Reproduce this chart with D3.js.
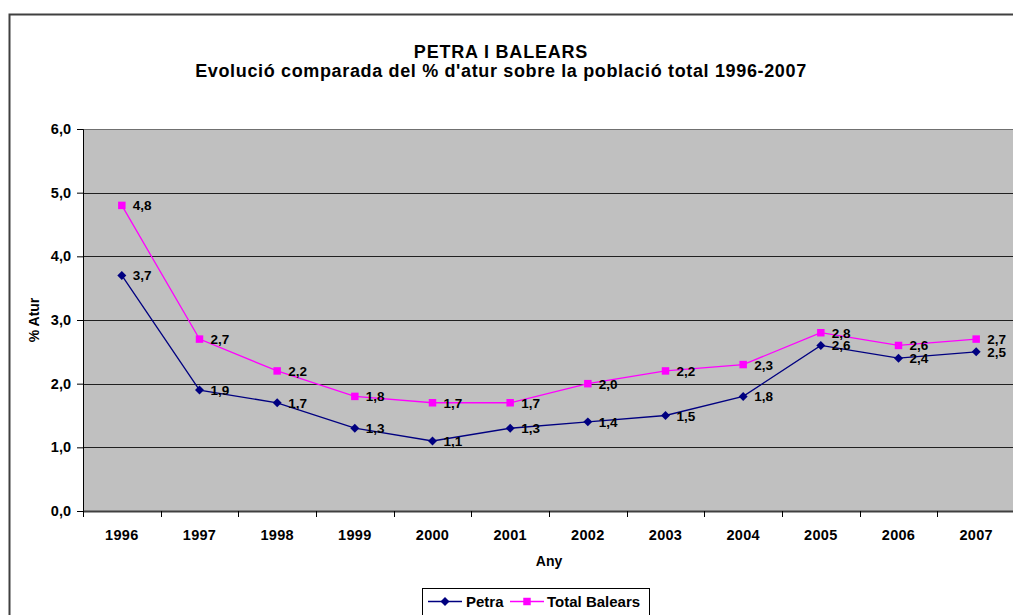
<!DOCTYPE html>
<html>
<head>
<meta charset="utf-8">
<script src="https://cdn.jsdelivr.net/npm/d3@7"></script>
<style>
  body { margin: 0; background: #fff; }
  svg { display: block; font-family: Arial, "Liberation Sans", sans-serif; }
</style>
</head>
<body>
<div id="chart"></div>
<script>
// chart data
var years = ["1996", "1997", "1998", "1999", "2000", "2001", "2002", "2003", "2004", "2005", "2006", "2007"];
var petra = [3.7, 1.9, 1.7, 1.3, 1.1, 1.3, 1.4, 1.5, 1.8, 2.6, 2.4, 2.5];
var balears = [4.8, 2.7, 2.2, 1.8, 1.7, 1.7, 2.0, 2.2, 2.3, 2.8, 2.6, 2.7];
var yTicks = [0, 1, 2, 3, 4, 5, 6];

var W = 1013, H = 615;
var margin = { top: 129, right: -2, bottom: 104, left: 83 };
var width = W - margin.left - margin.right;
var height = H - margin.top - margin.bottom;
var FONT = "Arial, 'Liberation Sans', sans-serif";

var fmt = function (v) { return v.toFixed(1).replace(".", ","); };

var svg = d3.select("#chart").append("svg")
  .attr("width", W)
  .attr("height", H);

// outer chart border
svg.append("rect")
  .attr("x", 9.5).attr("y", 14.5)
  .attr("width", W + 20).attr("height", H + 20)
  .attr("fill", "#fff")
  .attr("stroke", "#404040")
  .attr("stroke-width", 2);

// titles
svg.append("text")
  .attr("x", 501).attr("y", 58)
  .attr("text-anchor", "middle")
  .attr("font-size", 18).attr("font-weight", "bold")
  .attr("letter-spacing", 0.8)
  .text("PETRA I BALEARS");
svg.append("text")
  .attr("x", 501).attr("y", 77)
  .attr("text-anchor", "middle")
  .attr("font-size", 18).attr("font-weight", "bold")
  .attr("letter-spacing", 0.65)
  .text("Evolució comparada del % d'atur sobre la població total 1996-2007");

var g = svg.append("g").attr("transform", `translate(${margin.left},${margin.top})`);

var x = d3.scaleBand().domain(years).range([0, width]);
var y = d3.scaleLinear().domain([0, 6]).range([height, 0]);

// plot background
g.append("rect")
  .attr("width", width).attr("height", height)
  .attr("fill", "#c0c0c0");

// gridlines
g.selectAll(".grid")
  .data(yTicks.slice(1))
  .enter()
  .append("line")
  .attr("x1", 0).attr("x2", width)
  .attr("y1", function (d) { return Math.round(y(d)) + 0.5; })
  .attr("y2", function (d) { return Math.round(y(d)) + 0.5; })
  .attr("stroke", function (d) { return d === 6 ? "#707070" : "#202020"; })
  .attr("stroke-width", 1);

// Y axis
var yAxis = g.append("g")
  .call(d3.axisLeft(y).tickValues(yTicks).tickFormat(fmt).tickSize(6).tickPadding(6));
yAxis.select(".domain").attr("stroke", "#000");
yAxis.selectAll("text").attr("font-size", 14.5).attr("font-weight", "bold").attr("fill", "#000")
  .attr("font-family", FONT);

// X axis with ticks at category boundaries
var xAxis = g.append("g").attr("transform", `translate(0,${height})`)
  .call(d3.axisBottom(x).tickSize(0).tickPadding(18.5));
xAxis.select(".domain").attr("stroke", "#404040").attr("stroke-width", 2);
xAxis.selectAll("text").attr("font-size", 14.5).attr("font-weight", "bold").attr("fill", "#000")
  .attr("letter-spacing", 0.3)
  .attr("font-family", FONT);
g.append("g").selectAll("line")
  .data(years)
  .enter()
  .append("line")
  .attr("x1", function (d) { return Math.round(x(d)) + 0.5; })
  .attr("x2", function (d) { return Math.round(x(d)) + 0.5; })
  .attr("y1", height).attr("y2", height + 6)
  .attr("stroke", "#000");

// axis titles
svg.append("text")
  .attr("x", 549).attr("y", 566)
  .attr("text-anchor", "middle")
  .attr("font-size", 14).attr("font-weight", "bold")
  .text("Any");
svg.append("text")
  .attr("transform", "translate(39,320) rotate(-90)")
  .attr("text-anchor", "middle")
  .attr("font-size", 14).attr("font-weight", "bold")
  .text("% Atur");

var cx = function (i) { return x(years[i]) + x.bandwidth() / 2; };
var line = d3.line()
  .x(function (d, i) { return cx(i); })
  .y(function (d) { return y(d); });

// diamond like the spreadsheet marker (as wide as tall)
var diamond = { draw: function (ctx, size) {
  var r = Math.sqrt(size) / 2 * 1.2;
  ctx.moveTo(0, -r); ctx.lineTo(r, 0); ctx.lineTo(0, r); ctx.lineTo(-r, 0); ctx.closePath();
} };

var series = [
  { name: "Petra", values: petra, color: "#000080", symbol: diamond, size: 56 },
  { name: "Total Balears", values: balears, color: "#ff00ff", symbol: d3.symbolSquare, size: 56 }
];

series.forEach(function (s, k) {
  g.append("path")
    .datum(s.values)
    .attr("fill", "none")
    .attr("stroke", s.color)
    .attr("stroke-width", 1.3)
    .attr("d", line);
  g.selectAll(".m" + k)
    .data(s.values)
    .enter()
    .append("path")
    .attr("class", "m" + k)
    .attr("transform", function (d, i) { return `translate(${cx(i)},${y(d)})`; })
    .attr("d", d3.symbol().type(s.symbol).size(s.size))
    .attr("fill", s.color);
});

// data labels, drawn after lines so they sit on top
series.forEach(function (s, k) {
  g.selectAll(".l" + k)
    .data(s.values)
    .enter()
    .append("text")
    .attr("class", "l" + k)
    .attr("x", function (d, i) { return cx(i) + 11; })
    .attr("y", function (d) { return y(d) + 5; })
    .attr("font-size", 13.5).attr("font-weight", "bold")
    .attr("fill", "#000")
    .text(fmt);
});

// legend
var lg = svg.append("g").attr("transform", "translate(422,588)");
lg.append("rect")
  .attr("x", 0.5).attr("y", 0.5)
  .attr("width", 227).attr("height", 40)
  .attr("fill", "#fff").attr("stroke", "#000");
var legendItems = [
  { s: series[0], x: 6, tx: 44 },
  { s: series[1], x: 88, tx: 125 }
];
legendItems.forEach(function (it) {
  lg.append("line")
    .attr("x1", it.x).attr("x2", it.x + 34)
    .attr("y1", 13.5).attr("y2", 13.5)
    .attr("stroke", it.s.color).attr("stroke-width", 1.3);
  lg.append("path")
    .attr("transform", `translate(${it.x + 17},13.5)`)
    .attr("d", d3.symbol().type(it.s.symbol).size(it.s.size))
    .attr("fill", it.s.color);
  lg.append("text")
    .attr("x", it.tx).attr("y", 18.5)
    .attr("font-size", 15).attr("font-weight", "bold")
    .text(it.s.name);
});
</script>
</body>
</html>
